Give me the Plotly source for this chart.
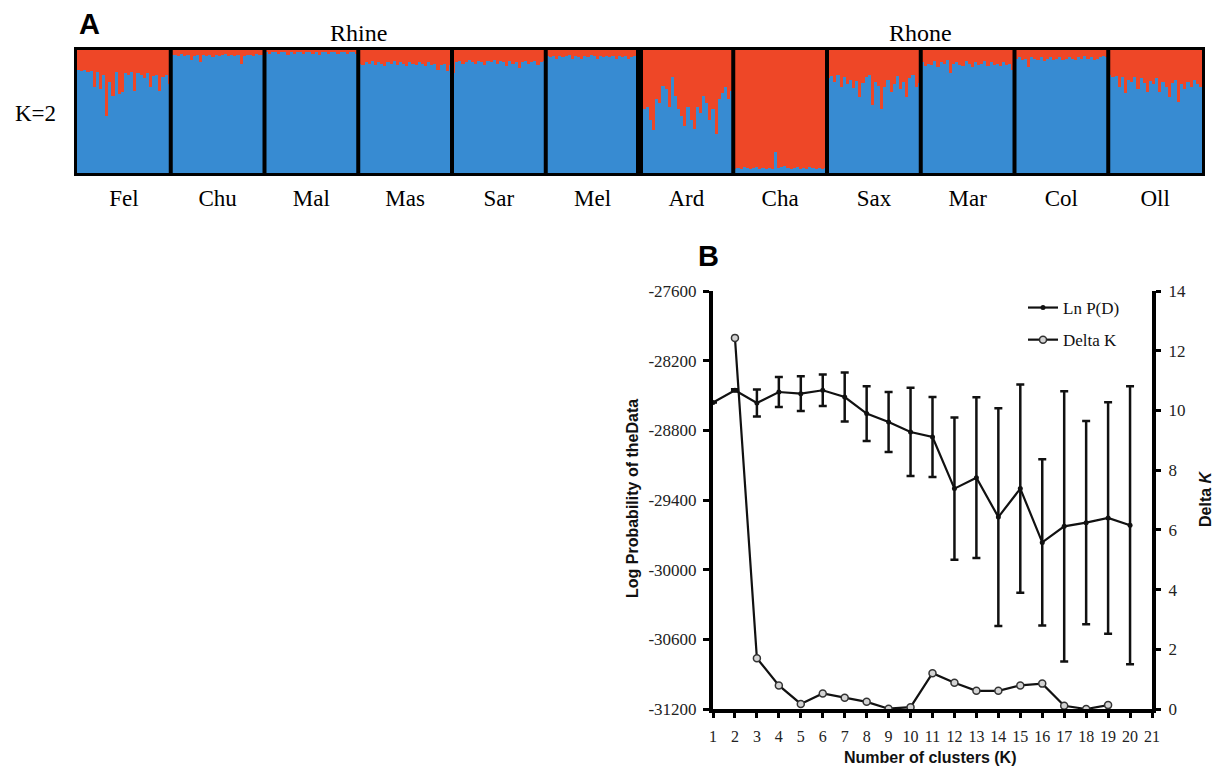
import plotly.graph_objects as go

# ---------------- Panel A data (proportion of blue cluster, K=2) ----------------
populations = ["Fel", "Chu", "Mal", "Mas", "Sar", "Mel", "Ard", "Cha", "Sax", "Mar", "Col", "Oll"]
fel = [0.84, 0.83, 0.84, 0.82, 0.83, 0.70, 0.82, 0.68, 0.80, 0.46, 0.74, 0.63, 0.82, 0.64, 0.66,
       0.81, 0.80, 0.82, 0.67, 0.81, 0.80, 0.77, 0.81, 0.70, 0.79, 0.80, 0.67, 0.78, 0.80, 0.72]
chu = [0.96, 0.96, 0.95, 0.97, 0.95, 0.96, 0.92, 0.95, 0.96, 0.90, 0.96, 0.95, 0.96, 0.94, 0.96,
       0.95, 0.96, 0.97, 0.95, 0.96, 0.95, 0.96, 0.89, 0.95, 0.96, 0.96, 0.95, 0.97, 0.96, 0.96]
mal = [0.98, 0.97, 0.98, 0.98, 0.97, 0.98, 0.98, 0.96, 0.98, 0.97, 0.98, 0.98, 0.97, 0.98, 0.98,
       0.97, 0.98, 0.96, 0.98, 0.98, 0.97, 0.98, 0.98, 0.97, 0.98, 0.98, 0.97, 0.98, 0.98, 0.97]
mas = [0.89, 0.88, 0.90, 0.89, 0.91, 0.88, 0.90, 0.89, 0.87, 0.90, 0.89, 0.91, 0.88, 0.90, 0.89,
       0.87, 0.90, 0.89, 0.88, 0.90, 0.89, 0.87, 0.90, 0.88, 0.89, 0.84, 0.88, 0.89, 0.83, 0.88]
sar = [0.81, 0.90, 0.91, 0.89, 0.90, 0.92, 0.90, 0.89, 0.91, 0.90, 0.88, 0.91, 0.90, 0.92, 0.89,
       0.91, 0.90, 0.87, 0.91, 0.89, 0.90, 0.85, 0.90, 0.91, 0.89, 0.90, 0.91, 0.88, 0.90, 0.91]
mel = [0.95, 0.94, 0.95, 0.93, 0.95, 0.94, 0.95, 0.96, 0.93, 0.95, 0.94, 0.93, 0.95, 0.94, 0.96,
       0.95, 0.93, 0.95, 0.94, 0.95, 0.94, 0.95, 0.93, 0.95, 0.94, 0.95, 0.93, 0.94, 0.95, 0.94]
ard = [0.71, 0.52, 0.54, 0.43, 0.35, 0.60, 0.57, 0.71, 0.68, 0.54, 0.78, 0.63, 0.52, 0.46, 0.38,
       0.54, 0.43, 0.36, 0.54, 0.49, 0.63, 0.57, 0.43, 0.52, 0.32, 0.60, 0.65, 0.70, 0.60, 0.67]
cha = [0.03, 0.04, 0.03, 0.05, 0.04, 0.03, 0.04, 0.05, 0.03, 0.04, 0.03, 0.04, 0.03, 0.17, 0.04,
       0.05, 0.06, 0.04, 0.03, 0.04, 0.05, 0.03, 0.04, 0.03, 0.05, 0.04, 0.03, 0.04, 0.03, 0.04]
sax = [0.77, 0.79, 0.74, 0.80, 0.70, 0.78, 0.72, 0.76, 0.69, 0.75, 0.62, 0.73, 0.78, 0.80, 0.55,
       0.74, 0.71, 0.52, 0.70, 0.76, 0.66, 0.72, 0.79, 0.68, 0.74, 0.62, 0.77, 0.80, 0.70, 0.73]
mar = [0.90, 0.87, 0.89, 0.88, 0.91, 0.86, 0.90, 0.89, 0.92, 0.81, 0.89, 0.90, 0.88, 0.87, 0.91,
       0.89, 0.86, 0.90, 0.88, 0.89, 0.91, 0.87, 0.90, 0.88, 0.89, 0.87, 0.90, 0.88, 0.89, 0.84]
col = [0.93, 0.94, 0.92, 0.93, 0.86, 0.94, 0.93, 0.92, 0.94, 0.91, 0.93, 0.94, 0.92, 0.93, 0.94,
       0.92, 0.93, 0.94, 0.93, 0.92, 0.94, 0.93, 0.95, 0.93, 0.94, 0.92, 0.93, 0.94, 0.95, 0.94]
oll = [0.80, 0.78, 0.79, 0.70, 0.78, 0.65, 0.76, 0.74, 0.78, 0.68, 0.77, 0.73, 0.66, 0.75, 0.72,
       0.77, 0.66, 0.74, 0.70, 0.62, 0.73, 0.76, 0.58, 0.72, 0.68, 0.74, 0.70, 0.76, 0.72, 0.70]
pop_values = [fel, chu, mal, mas, sar, mel, ard, cha, sax, mar, col, oll]
rhine_count = 6  # first six populations are Rhine, rest Rhone

# ---------------- Panel B data ----------------
k_values = list(range(1, 21))
ln_pd = [-28561, -28455, -28565, -28470, -28484, -28455, -28513, -28656, -28728, -28814,
         -28857, -29302, -29208, -29547, -29302, -29765, -29627, -29595, -29555, -29618]
ln_pd_sd = [0, 8, 116, 130, 150, 135, 211, 235, 258, 380,
            345, 612, 692, 938, 897, 715, 1164, 875, 997, 1197]
delta_k = [None, 12.43, 1.70, 0.79, 0.17, 0.52, 0.38, 0.24, 0.01, 0.06,
           1.20, 0.88, 0.61, 0.61, 0.79, 0.85, 0.11, 0.0, 0.13, None]
x_ticks = list(range(1, 22))
left_ticks = [-31200, -30600, -30000, -29400, -28800, -28200, -27600]
right_ticks = [0, 2, 4, 6, 8, 10, 12, 14]

BLUE = "#378bd2"
RED = "#ee4727"
SERIF = "Liberation Serif"
SANS = "Liberation Sans"

W, H = 1214, 772
def px(x):
    return x / W
def py(y):
    return 1 - y / H

# build bar positions from the data
xs, blues, reds, centers, bounds = [], [], [], [], []
idx = 0
for vals in pop_values:
    start = idx
    for v in vals:
        xs.append(idx)
        blues.append(v)
        reds.append(1 - v)
        idx += 1
    centers.append((start + idx - 1) / 2)
    bounds.append(idx - 0.5)
n_total = idx

fig = go.Figure()
fig.add_trace(go.Bar(x=xs, y=blues, marker=dict(color=BLUE, line=dict(width=0)), width=1,
                     showlegend=False, xaxis="x", yaxis="y", hoverinfo="skip"))
fig.add_trace(go.Bar(x=xs, y=reds, marker=dict(color=RED, line=dict(width=0)), width=1,
                     showlegend=False, xaxis="x", yaxis="y", hoverinfo="skip"))

# population separators
shapes = []
for i, b in enumerate(bounds[:-1]):
    shapes.append(dict(type="line", xref="x", yref="y", x0=b, x1=b, y0=0, y1=1,
                       line=dict(color="black", width=7 if i == rhine_count - 1 else 4)))

# Panel B traces
fig.add_trace(go.Scatter(x=k_values, y=ln_pd, mode="lines+markers", name="Ln P(D)",
                         line=dict(color="#111", width=2.2),
                         marker=dict(color="#111", size=5),
                         error_y=dict(type="data", array=ln_pd_sd, visible=True,
                                      color="#111", thickness=2.5, width=4),
                         xaxis="x2", yaxis="y2", cliponaxis=False, legendgroup="a"))
fig.add_trace(go.Scatter(x=k_values, y=delta_k, mode="lines+markers", name="Delta K",
                         line=dict(color="#111", width=2.2),
                         marker=dict(color="#d4d4d4", size=7, line=dict(color="#333", width=1.5)),
                         connectgaps=False,
                         xaxis="x2", yaxis="y3", cliponaxis=False, legendgroup="b"))

def label(x, y, text, xref="paper", **kw):
    d = dict(x=x, y=y, xref=xref, yref="paper", text=text, showarrow=False,
             xanchor="center", yanchor="middle")
    d.update(kw)
    return d

ann = [
    label((centers[0] + centers[rhine_count - 1]) / 2, py(33), "Rhine", xref="x",
          font=dict(family=SERIF, size=24, color="black")),
    label((centers[rhine_count] + centers[-1]) / 2, py(33), "Rhone", xref="x",
          font=dict(family=SERIF, size=24, color="black")),
    label(px(89), py(24), "<b>A</b>", font=dict(family=SANS, size=29, color="black")),
    label(px(35), py(114), "K=2", font=dict(family=SERIF, size=23, color="black")),
    label(px(708), py(256), "<b>B</b>", font=dict(family=SANS, size=29, color="black")),
    label(px(632), py(499), "<b>Log Probability of theData</b>", textangle=-90,
          font=dict(family=SANS, size=16, color="#111")),
    label(px(1205), py(499), "<b>Delta <i>K</i></b>", textangle=-90,
          font=dict(family=SANS, size=16, color="#111")),
    label(px(930), py(757), "<b>Number of clusters (K)</b>",
          font=dict(family=SANS, size=16, color="#111")),
]

fig.update_layout(
    width=W, height=H, margin=dict(l=0, r=0, t=0, b=0, pad=0, autoexpand=False),
    paper_bgcolor="white", plot_bgcolor="white",
    barmode="stack", bargap=0,
    shapes=shapes, annotations=ann,
    xaxis=dict(domain=[px(77), px(1202)], range=[-0.5, n_total - 0.5],
               tickvals=centers, ticktext=populations, ticks="",
               ticklabelstandoff=2,
               tickfont=dict(family=SERIF, size=23, color="black"),
               showline=True, linecolor="black", linewidth=3, mirror=True,
               showgrid=False, zeroline=False, automargin=False),
    yaxis=dict(domain=[py(173), py(50)], range=[0, 1], showticklabels=False,
               showline=True, linecolor="black", linewidth=3, mirror=True,
               showgrid=False, zeroline=False, ticks="", automargin=False),
    xaxis2=dict(domain=[px(713), px(1152)], range=[1, 21], tickvals=x_ticks,
                ticktext=[str(t) for t in x_ticks],
                ticks="outside", ticklen=5, tickwidth=3, tickcolor="black",
                ticklabelstandoff=5,
                tickfont=dict(family=SERIF, size=16, color="#222"),
                showline=True, linecolor="black", linewidth=4, showgrid=False,
                zeroline=False, anchor="y2", automargin=False),
    yaxis2=dict(domain=[py(709), py(291)], range=[-31200, -27600], tickvals=left_ticks,
                ticktext=[str(t) for t in left_ticks],
                ticks="outside", ticklen=6, tickwidth=3, tickcolor="black",
                ticklabelstandoff=3,
                tickfont=dict(family=SERIF, size=17, color="#222"),
                showline=True, linecolor="black", linewidth=4, showgrid=False,
                zeroline=False, anchor="x2", automargin=False),
    yaxis3=dict(range=[0, 14], tickvals=right_ticks, ticktext=[str(t) for t in right_ticks],
                overlaying="y2", side="right",
                anchor="x2", ticks="outside", ticklen=5, tickwidth=3, tickcolor="black",
                ticklabelstandoff=4,
                tickfont=dict(family=SERIF, size=17, color="#222"),
                showline=True, linecolor="black", linewidth=4, showgrid=False,
                zeroline=False, automargin=False),
    legend=dict(x=px(1023), y=py(290), xanchor="left", yanchor="top",
                font=dict(family=SERIF, size=17, color="#111"), bgcolor="rgba(0,0,0,0)",
                itemwidth=30, tracegroupgap=7),
)

fig.write_html("out.html")
